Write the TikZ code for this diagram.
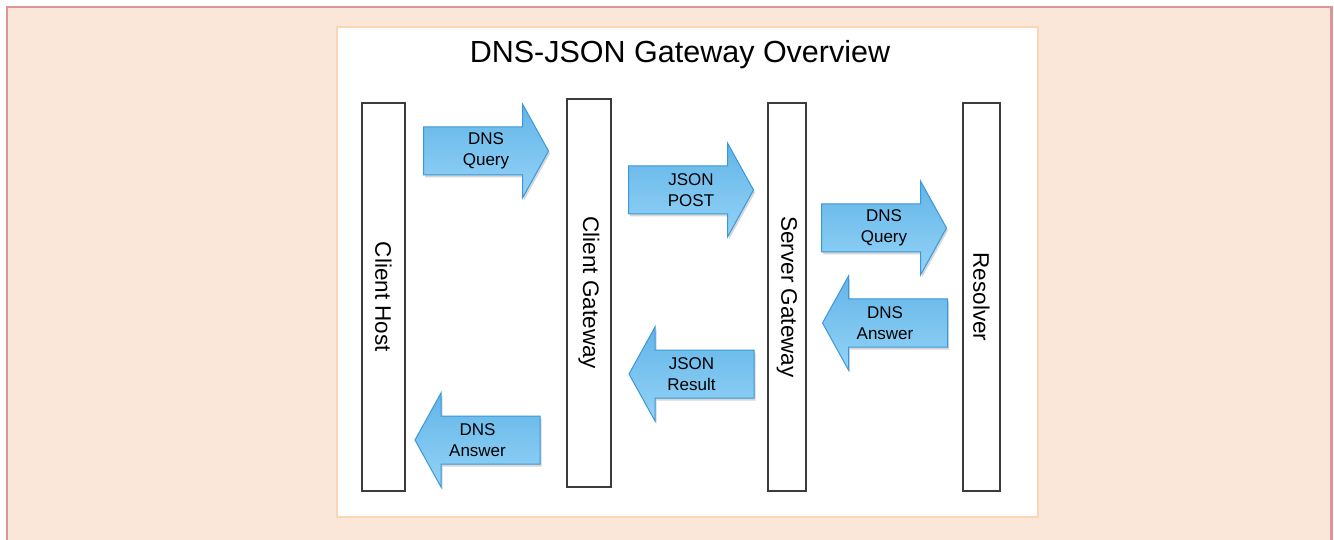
\documentclass[tikz,border=0pt]{standalone}
\usepackage{fontspec}
\setmainfont{Liberation Sans}
\usetikzlibrary{calc}
\definecolor{pagebg}{HTML}{FBE7D9}
\definecolor{pageborder}{HTML}{DB9797}
\definecolor{panelborder}{HTML}{FCD5B1}
\definecolor{barline}{HTML}{3C3C3C}
\definecolor{arrowtop}{HTML}{62B5E8}
\definecolor{arrowbot}{HTML}{94D3F7}
\definecolor{arrowline}{HTML}{3A98D8}
\tikzset{
  lifeline/.style={draw=barline, line width=1.6pt, fill=white, rotate=-90,
    inner sep=0pt, font=\fontsize{22.5}{27}\selectfont},
  arrowshape/.style={draw=arrowline, line width=1pt, top color=arrowtop, bottom color=arrowbot},
  arrowshadow/.style={fill=black, opacity=.16},
  arrowlabel/.style={align=center, inner sep=0pt, font=\fontsize{17}{21.5}\selectfont},
}
\newcommand\flowright[4]{%
  \coordinate (#1) at (#2,#3);
  \fill[arrowshadow, shift={(#1)}, xshift=1.5pt, yshift=-2.5pt]
    (-62.5,-24) -- (36.5,-24) -- (36.5,-47) -- (62.5,0) -- (36.5,47) -- (36.5,24) -- (-62.5,24) -- cycle;
  \draw[arrowshape, shift={(#1)}]
    (-62.5,-24) -- (36.5,-24) -- (36.5,-47) -- (62.5,0) -- (36.5,47) -- (36.5,24) -- (-62.5,24) -- cycle;
  \node[arrowlabel] (#1-t) at (#1) {#4};
}
\newcommand\flowleft[4]{%
  \coordinate (#1) at (#2,#3);
  \fill[arrowshadow, shift={(#1)}, xshift=1.5pt, yshift=-2.5pt]
    (62.5,-24) -- (-36.5,-24) -- (-36.5,-47) -- (-62.5,0) -- (-36.5,47) -- (-36.5,24) -- (62.5,24) -- cycle;
  \draw[arrowshape, shift={(#1)}]
    (62.5,-24) -- (-36.5,-24) -- (-36.5,-47) -- (-62.5,0) -- (-36.5,47) -- (-36.5,24) -- (62.5,24) -- cycle;
  \node[arrowlabel] (#1-t) at (#1) {#4};
}
\begin{document}
\begin{tikzpicture}[x=1pt, y=-1pt]
  \useasboundingbox (0,0) rectangle (1334,540);
  % page background and border
  \fill[pagebg] (7,7) rectangle (1331.5,540);
  \draw[pageborder, line width=2.2pt] (7,540) -- (7,7) -- (1331.5,7) -- (1331.5,540);
  % white panel
  \draw[panelborder, line width=2.5pt, fill=white] (337,27) rectangle (1038,517);
  % title
  \node[anchor=base, inner sep=0pt, font=\fontsize{30.5}{36}\selectfont] (title) at (680,63) {DNS-JSON Gateway Overview};
  % lifelines
  \node[lifeline, minimum width=388pt, minimum height=43pt] (host) at (383.5,297) {Client Host};
  \node[lifeline, minimum width=388pt, minimum height=44pt] (cgw) at (589,293) {Client Gateway};
  \node[lifeline, minimum width=388pt, minimum height=38pt] (sgw) at (787,297) {Server Gateway};
  \node[lifeline, minimum width=388pt, minimum height=37pt] (res) at (981.5,297) {Resolver};
  % message arrows
  \flowright{a1}{486}{151}{DNS\\Query}
  \flowright{a2}{691}{190}{JSON\\POST}
  \flowright{a3}{884}{228}{DNS\\Query}
  \flowleft{a4}{885}{323}{DNS\\Answer}
  \flowleft{a5}{691.5}{374}{JSON\\Result}
  \flowleft{a6}{477.5}{440}{DNS\\Answer}
\end{tikzpicture}
\end{document}
